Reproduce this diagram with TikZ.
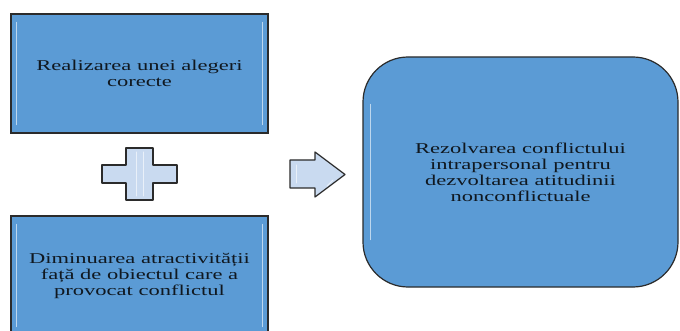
\documentclass[tikz,border=0pt]{standalone}
\usepackage{fontspec}
\setmainfont{Liberation Serif}[FakeStretch=1.5]
\usepackage{tikz}
\definecolor{boxblue}{HTML}{5B9BD5}
\definecolor{signblue}{HTML}{C9DAF0}
\definecolor{edgedark}{HTML}{2B2B2B}
\definecolor{inkdark}{HTML}{101820}
\tikzset{
  stepbox/.style={draw=edgedark,line width=1.2pt,fill=boxblue,minimum width=257pt,minimum height=119pt,
    align=center,inner sep=0pt,text=inkdark,font=\fontsize{15}{16}\selectfont},
  signshape/.style={draw=edgedark,line width=1.2pt,fill=signblue,line join=round},
  glint/.style={white,line width=1pt,opacity=0.6,line cap=round}
}

\begin{document}
\begin{tikzpicture}[x=1pt,y=1pt]
    \useasboundingbox (0,0) rectangle (680,-331);
    \node[stepbox] (realizare) at (139.5,-73.5) {Realizarea unei alegeri\\corecte};
    \node[stepbox] (diminuare) at (139.5,-275.5) {Diminuarea atractivității\\față de obiectul care a\\provocat conflictul};
    \node[stepbox,rounded corners=45pt,minimum width=315pt,minimum height=230pt] (rezolvare) at (520.5,-172)
      {Rezolvarea conflictului\\intrapersonal pentru\\dezvoltarea atitudinii\\nonconflictuale};
    \foreach \b in {realizare,diminuare} {
      \draw[glint] ([xshift=6pt,yshift=-9pt]\b.north west) -- ([xshift=6pt,yshift=9pt]\b.south west);
      \draw[glint] ([xshift=-6pt,yshift=-9pt]\b.north east) -- ([xshift=-6pt,yshift=9pt]\b.south east);
    }
    \draw[glint] ([xshift=8pt,yshift=-48pt]rezolvare.north west) -- ([xshift=8pt,yshift=48pt]rezolvare.south west);
    \draw[signshape] (126,-148) -- (153,-148) -- (153,-165) -- (177,-165) -- (177,-183) -- (153,-183)
      -- (153,-200) -- (126,-200) -- (126,-183) -- (102,-183) -- (102,-165) -- (126,-165) -- cycle;
    \draw[glint] (136,-152) -- (136,-196);
    \draw[glint] (143,-152) -- (143,-196);
    \draw[signshape] (290,-160) -- (315,-160) -- (315,-152) -- (345,-174.5) -- (315,-197) -- (315,-188)
      -- (290,-188) -- cycle;
    \draw[glint] (296,-165) -- (296,-183);
    \draw[glint] (333,-180) -- (327,-186);
  \end{tikzpicture}
\end{document}
